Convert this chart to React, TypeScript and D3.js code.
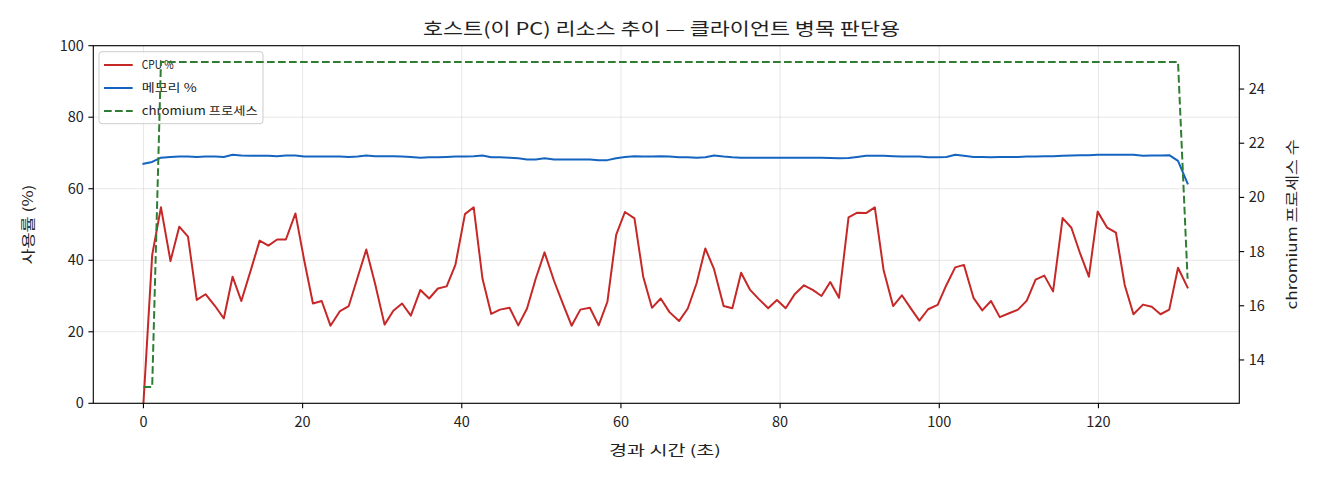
import React from "react";
import * as d3 from "d3";

// elapsed seconds of each sample
const elapsed: number[] = [
  0.0, 1.1, 2.2, 3.4, 4.5, 5.6, 6.7, 7.8, 9.0, 10.1,
  11.2, 12.3, 13.5, 14.6, 15.7, 16.8, 17.9, 19.1, 20.2, 21.3,
  22.4, 23.5, 24.7, 25.8, 26.9, 28.0, 29.1, 30.3, 31.4, 32.5,
  33.6, 34.8, 35.9, 37.0, 38.1, 39.2, 40.4, 41.5, 42.6, 43.7,
  44.8, 46.0, 47.1, 48.2, 49.3, 50.4, 51.6, 52.7, 53.8, 54.9,
  56.1, 57.2, 58.3, 59.4, 60.5, 61.7, 62.8, 63.9, 65.0, 66.1,
  67.3, 68.4, 69.5, 70.6, 71.7, 72.9, 74.0, 75.1, 76.2, 77.3,
  78.5, 79.6, 80.7, 81.8, 83.0, 84.1, 85.2, 86.3, 87.4, 88.6,
  89.7, 90.8, 91.9, 93.0, 94.2, 95.3, 96.4, 97.5, 98.6, 99.8,
  100.9, 102.0, 103.1, 104.3, 105.4, 106.5, 107.6, 108.7, 109.9, 111.0,
  112.1, 113.2, 114.3, 115.5, 116.6, 117.7, 118.8, 119.9, 121.1, 122.2,
  123.3, 124.4, 125.6, 126.7, 127.8, 128.9, 130.0, 131.2,
];

const cpu: number[] = [
  0, 41.5, 54.8, 39.8, 49.4, 46.6, 28.9, 30.5, 27.2, 23.7,
  35.4, 28.6, 37.3, 45.5, 44.1, 45.8, 45.8, 53.1, 40.0, 27.9,
  28.6, 21.7, 25.8, 27.2, 35.1, 43.0, 33.5, 22.0, 25.9, 27.9,
  24.5, 31.7, 29.3, 32.1, 32.7, 38.7, 52.9, 54.8, 34.9, 25.0,
  26.2, 26.7, 21.8, 26.5, 34.9, 42.2, 34.2, 27.9, 21.7, 26.2,
  26.7, 21.8, 28.4, 47.1, 53.5, 51.7, 35.4, 26.7, 29.3, 25.5,
  23.0, 26.5, 33.5, 43.3, 37.5, 27.2, 26.6, 36.5, 31.8, 29.2,
  26.6, 28.9, 26.6, 30.4, 33.0, 31.7, 30.0, 33.9, 29.5, 52.0,
  53.3, 53.2, 54.8, 37.3, 27.2, 30.2, 26.6, 23.1, 26.3, 27.5,
  33.1, 38.0, 38.7, 29.5, 26.0, 28.6, 24.1, 25.1, 26.2, 28.7,
  34.6, 35.7, 31.3, 51.8, 49.1, 41.9, 35.4, 53.6, 49.1, 47.7,
  33.1, 24.9, 27.6, 27.0, 24.9, 26.2, 37.9, 32.4,
];

const mem: number[] = [
  67.0, 67.5, 68.7, 68.9, 69.0, 69.0, 68.9, 69.0, 69.0, 68.9,
  69.5, 69.3, 69.2, 69.2, 69.2, 69.1, 69.3, 69.3, 69.0, 69.0,
  69.0, 69.0, 69.0, 68.9, 69.0, 69.3, 69.1, 69.1, 69.1, 69.0,
  68.9, 68.7, 68.8, 68.8, 68.9, 69.0, 69.0, 69.1, 69.3, 68.8,
  68.8, 68.7, 68.5, 68.2, 68.2, 68.5, 68.2, 68.2, 68.2, 68.2,
  68.2, 68.0, 68.0, 68.5, 68.9, 69.1, 69.0, 69.0, 69.1, 69.0,
  68.8, 68.8, 68.7, 68.8, 69.3, 69.0, 68.8, 68.7, 68.7, 68.7,
  68.7, 68.7, 68.7, 68.7, 68.7, 68.7, 68.7, 68.6, 68.5, 68.6,
  68.9, 69.2, 69.2, 69.2, 69.1, 69.0, 69.0, 69.0, 68.8, 68.8,
  68.9, 69.5, 69.2, 68.9, 68.9, 68.8, 68.9, 68.9, 68.9, 69.0,
  69.0, 69.1, 69.1, 69.2, 69.3, 69.4, 69.4, 69.5, 69.5, 69.5,
  69.5, 69.5, 69.2, 69.3, 69.3, 69.4, 67.8, 61.5,
];

const procs: number[] = [
  13, 13, 25, 25, 25, 25, 25, 25, 25, 25,
  25, 25, 25, 25, 25, 25, 25, 25, 25, 25,
  25, 25, 25, 25, 25, 25, 25, 25, 25, 25,
  25, 25, 25, 25, 25, 25, 25, 25, 25, 25,
  25, 25, 25, 25, 25, 25, 25, 25, 25, 25,
  25, 25, 25, 25, 25, 25, 25, 25, 25, 25,
  25, 25, 25, 25, 25, 25, 25, 25, 25, 25,
  25, 25, 25, 25, 25, 25, 25, 25, 25, 25,
  25, 25, 25, 25, 25, 25, 25, 25, 25, 25,
  25, 25, 25, 25, 25, 25, 25, 25, 25, 25,
  25, 25, 25, 25, 25, 25, 25, 25, 25, 25,
  25, 25, 25, 25, 25, 25, 25, 17,
];

const xTicks: number[] = [0, 20, 40, 60, 80, 100, 120];
const yLeftTicks: number[] = [0, 20, 40, 60, 80, 100];
const yRightTicks: number[] = [14, 16, 18, 20, 22, 24];

const title = "호스트(이 PC) 리소스 추이 — 클라이언트 병목 판단용";
const xLabel = "경과 시간 (초)";
const yLeftLabel = "사용률 (%)";
const yRightLabel = "chromium 프로세스 수";
const seriesNames: string[] = ["CPU %", "메모리 %", "chromium 프로세스"];
const legendTextWidths: number[] = [32, 55, 116];

const W = 1320;
const H = 480;
const L = 93.3, R = 1239.3, T = 45.7, B = 403.3;
const FONT = "'Noto Sans CJK KR', 'DejaVu Sans', sans-serif";
const RED = "#c62828";
const BLUE = "#1565c0";
const GREEN = "#2e7d32";

export default function App() {
  const x = d3.scaleLinear().domain([-6.3, 137.7]).range([L, R]);
  const yL = d3.scaleLinear().domain([0, 100]).range([B, T]);
  const yR = d3.scaleLinear().domain([12.4, 25.6]).range([B, T]);

  const idx = elapsed.map((_, i) => i);
  const cpuLine = d3.line<number>().x((i) => x(elapsed[i])).y((i) => yL(cpu[i]))(idx) || "";
  const memLine = d3.line<number>().x((i) => x(elapsed[i])).y((i) => yL(mem[i]))(idx) || "";
  const procLine = d3.line<number>().x((i) => x(elapsed[i])).y((i) => yR(procs[i]))(idx) || "";

  const colors = [RED, BLUE, GREEN];
  const legX = 99, legY = 51.7, legW = 164, legH = 72;

  return (
    <svg
      width={W}
      height={H}
      style={{ position: "absolute", left: 0, top: 0, background: "#fff" }}
      fontFamily={FONT}
    >
      <rect x={0} y={0} width={W} height={H} fill="#fff" />
      {/* grid */}
      <g stroke="#b0b0b0" strokeOpacity={0.3} strokeWidth={1}>
        {xTicks.map((t) => (
          <line key={"gx" + t} x1={x(t)} x2={x(t)} y1={T} y2={B} />
        ))}
        {yLeftTicks.map((t) => (
          <line key={"gy" + t} x1={L} x2={R} y1={yL(t)} y2={yL(t)} />
        ))}
      </g>
      <defs>
        <clipPath id="plot">
          <rect x={L} y={T} width={R - L} height={B - T} />
        </clipPath>
      </defs>
      <g clipPath="url(#plot)" fill="none" strokeLinejoin="round" strokeLinecap="square">
        <path d={cpuLine} stroke={RED} strokeWidth={2} />
        <path d={memLine} stroke={BLUE} strokeWidth={2} />
      </g>
      {/* legend */}
      <g>
        <rect x={legX} y={legY} width={legW} height={legH} rx={3} fill="#fff" fillOpacity={0.8} stroke="#cccccc" strokeWidth={1} />
        {seriesNames.map((name, i) => {
          const cy = 65 + i * 23;
          return (
            <g key={name}>
              <line
                x1={104}
                x2={132.7}
                y1={cy}
                y2={cy}
                stroke={colors[i]}
                strokeWidth={2}
                strokeDasharray={i === 2 ? "7.7 3.3" : undefined}
              />
              <text
                x={141.7}
                y={cy + 4}
                fontSize={11.5}
                fill="#222"
                textLength={legendTextWidths[i]}
                lengthAdjust="spacingAndGlyphs"
              >
                {name}
              </text>
            </g>
          );
        })}
      </g>
      <g clipPath="url(#plot)" fill="none">
        <path d={procLine} stroke={GREEN} strokeWidth={2} strokeDasharray="7.7 3.3" />
      </g>
      {/* spines */}
      <rect x={L} y={T} width={R - L} height={B - T} fill="none" stroke="#000" strokeWidth={1.1} />
      {/* x ticks */}
      {xTicks.map((t) => (
        <g key={"xt" + t}>
          <line x1={x(t)} x2={x(t)} y1={B} y2={B + 4.9} stroke="#000" strokeWidth={1.1} />
          <text x={x(t)} y={B + 23.5} textAnchor="middle" fontSize={14.5} fill="#222">
            {t}
          </text>
        </g>
      ))}
      {yLeftTicks.map((t) => (
        <g key={"yl" + t}>
          <line x1={L - 4.9} x2={L} y1={yL(t)} y2={yL(t)} stroke="#000" strokeWidth={1.1} />
          <text x={L - 9.5} y={yL(t) + 5} textAnchor="end" fontSize={14.5} fill="#222">
            {t}
          </text>
        </g>
      ))}
      {yRightTicks.map((t) => (
        <g key={"yr" + t}>
          <line x1={R} x2={R + 4.9} y1={yR(t)} y2={yR(t)} stroke="#000" strokeWidth={1.1} />
          <text x={R + 9.5} y={yR(t) + 5} textAnchor="start" fontSize={14.5} fill="#222">
            {t}
          </text>
        </g>
      ))}
      <text
        x={661.5}
        y={35}
        textAnchor="middle"
        fontSize={17.5}
        fill="#222"
        textLength={477}
        lengthAdjust="spacingAndGlyphs"
      >
        {title}
      </text>
      <text
        x={665}
        y={455}
        textAnchor="middle"
        fontSize={13.8}
        fill="#222"
        textLength={112}
        lengthAdjust="spacingAndGlyphs"
      >
        {xLabel}
      </text>
      <text
        transform={`translate(33, ${(T + B) / 2}) rotate(-90)`}
        textAnchor="middle"
        fontSize={13.8}
        fill="#222"
        textLength={80}
        lengthAdjust="spacingAndGlyphs"
      >
        {yLeftLabel}
      </text>
      <text
        transform={`translate(1297, ${(T + B) / 2}) rotate(-90)`}
        textAnchor="middle"
        fontSize={13.8}
        fill="#222"
        textLength={170}
        lengthAdjust="spacingAndGlyphs"
      >
        {yRightLabel}
      </text>
    </svg>
  );
}
